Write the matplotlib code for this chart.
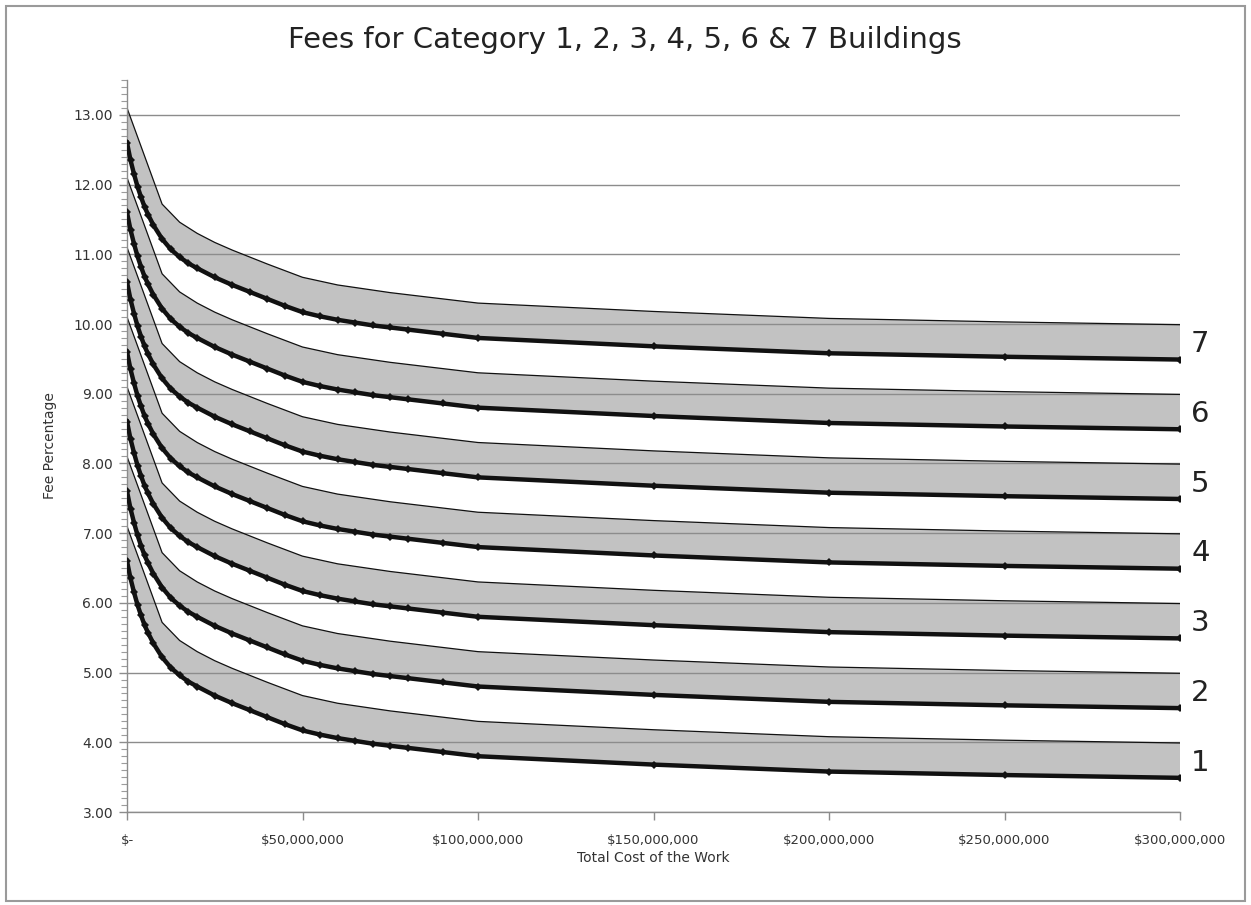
import matplotlib
matplotlib.use("Agg")
import matplotlib.pyplot as plt
import numpy as np
from matplotlib.ticker import MultipleLocator, FuncFormatter
from matplotlib.patches import Rectangle

# ---------------- data ----------------
x_lower_m = [0, 1, 2, 3, 4, 5, 6, 7.5, 10, 12.5, 15, 17.5, 20, 25, 30, 35, 40, 45,
             50, 55, 60, 65, 70, 75, 80, 90, 100, 150, 200, 250, 300]
x_upper_m = [0, 10, 15, 20, 25, 30, 35, 40, 50, 60, 75, 100, 150, 200, 250, 300]

lower_1 = [6.60, 6.35, 6.15, 5.97, 5.82, 5.68, 5.57, 5.42, 5.22, 5.07, 4.96, 4.87, 4.80, 4.67, 4.56, 4.46, 4.36, 4.26, 4.17, 4.11, 4.06, 4.02, 3.98, 3.95, 3.92, 3.86, 3.80, 3.68, 3.58, 3.53, 3.49]
lower_2 = [7.60, 7.35, 7.15, 6.97, 6.82, 6.68, 6.57, 6.42, 6.22, 6.07, 5.96, 5.87, 5.80, 5.67, 5.56, 5.46, 5.36, 5.26, 5.17, 5.11, 5.06, 5.02, 4.98, 4.95, 4.92, 4.86, 4.80, 4.68, 4.58, 4.53, 4.49]
lower_3 = [8.60, 8.35, 8.15, 7.97, 7.82, 7.68, 7.57, 7.42, 7.22, 7.07, 6.96, 6.87, 6.80, 6.67, 6.56, 6.46, 6.36, 6.26, 6.17, 6.11, 6.06, 6.02, 5.98, 5.95, 5.92, 5.86, 5.80, 5.68, 5.58, 5.53, 5.49]
lower_4 = [9.60, 9.35, 9.15, 8.97, 8.82, 8.68, 8.57, 8.42, 8.22, 8.07, 7.96, 7.87, 7.80, 7.67, 7.56, 7.46, 7.36, 7.26, 7.17, 7.11, 7.06, 7.02, 6.98, 6.95, 6.92, 6.86, 6.80, 6.68, 6.58, 6.53, 6.49]
lower_5 = [10.60, 10.35, 10.15, 9.97, 9.82, 9.68, 9.57, 9.42, 9.22, 9.07, 8.96, 8.87, 8.80, 8.67, 8.56, 8.46, 8.36, 8.26, 8.17, 8.11, 8.06, 8.02, 7.98, 7.95, 7.92, 7.86, 7.80, 7.68, 7.58, 7.53, 7.49]
lower_6 = [11.60, 11.35, 11.15, 10.97, 10.82, 10.68, 10.57, 10.42, 10.22, 10.07, 9.96, 9.87, 9.80, 9.67, 9.56, 9.46, 9.36, 9.26, 9.17, 9.11, 9.06, 9.02, 8.98, 8.95, 8.92, 8.86, 8.80, 8.68, 8.58, 8.53, 8.49]
lower_7 = [12.60, 12.35, 12.15, 11.97, 11.82, 11.68, 11.57, 11.42, 11.22, 11.07, 10.96, 10.87, 10.80, 10.67, 10.56, 10.46, 10.36, 10.26, 10.17, 10.11, 10.06, 10.02, 9.98, 9.95, 9.92, 9.86, 9.80, 9.68, 9.58, 9.53, 9.49]

upper_1 = [7.10, 5.72, 5.46, 5.30, 5.17, 5.06, 4.96, 4.86, 4.67, 4.56, 4.45, 4.30, 4.18, 4.08, 4.03, 3.99]
upper_2 = [8.10, 6.72, 6.46, 6.30, 6.17, 6.06, 5.96, 5.86, 5.67, 5.56, 5.45, 5.30, 5.18, 5.08, 5.03, 4.99]
upper_3 = [9.10, 7.72, 7.46, 7.30, 7.17, 7.06, 6.96, 6.86, 6.67, 6.56, 6.45, 6.30, 6.18, 6.08, 6.03, 5.99]
upper_4 = [10.10, 8.72, 8.46, 8.30, 8.17, 8.06, 7.96, 7.86, 7.67, 7.56, 7.45, 7.30, 7.18, 7.08, 7.03, 6.99]
upper_5 = [11.10, 9.72, 9.46, 9.30, 9.17, 9.06, 8.96, 8.86, 8.67, 8.56, 8.45, 8.30, 8.18, 8.08, 8.03, 7.99]
upper_6 = [12.10, 10.72, 10.46, 10.30, 10.17, 10.06, 9.96, 9.86, 9.67, 9.56, 9.45, 9.30, 9.18, 9.08, 9.03, 8.99]
upper_7 = [13.10, 11.72, 11.46, 11.30, 11.17, 11.06, 10.96, 10.86, 10.67, 10.56, 10.45, 10.30, 10.18, 10.08, 10.03, 9.99]

category_labels = ["1", "2", "3", "4", "5", "6", "7"]
lowers = [lower_1, lower_2, lower_3, lower_4, lower_5, lower_6, lower_7]
uppers = [upper_1, upper_2, upper_3, upper_4, upper_5, upper_6, upper_7]

title = "Fees for Category 1, 2, 3, 4, 5, 6 & 7 Buildings"
x_label = "Total Cost of the Work"
y_label = "Fee Percentage"

# ---------------- figure ----------------
W, H = 1251, 905
fig = plt.figure(figsize=(W / 100, H / 100), dpi=100)
fig.patch.set_facecolor("white")

# outer border of the chart area
fig.patches.append(Rectangle((6 / W, 4 / H), 1239 / W, 895 / H, transform=fig.transFigure,
                             fill=False, edgecolor="#9a9a9a", linewidth=1.5))

ax_left, ax_right, ax_bottom_px, ax_top_px = 127, 1180, 812, 80
ax = fig.add_axes([ax_left / W, 1 - ax_bottom_px / H,
                   (ax_right - ax_left) / W, (ax_bottom_px - ax_top_px) / H])

xl = np.array(x_lower_m) * 1e6
xu = np.array(x_upper_m) * 1e6

for lo, up in zip(lowers, uppers):
    poly_x = np.concatenate([xu, xl[::-1]])
    poly_y = np.concatenate([np.array(up), np.array(lo)[::-1]])
    ax.fill(poly_x, poly_y, facecolor="#c2c2c2", edgecolor="none", zorder=0.3)
    ax.plot(xu, up, color="#111111", lw=0.9, zorder=2)
    ax.plot(xl, lo, color="#111111", lw=3.2, marker="D", ms=4.5,
            markeredgewidth=0, zorder=3, solid_joinstyle="round")

for lab, lo in zip(category_labels, lowers):
    ax.annotate(lab, xy=(xl[-1], lo[-1] + 0.22), xycoords="data",
                xytext=(8, 0), textcoords="offset points",
                ha="left", va="center", fontsize=21, family="DejaVu Sans",
                color="#222222", annotation_clip=False)

ax.set_xlim(0, 300e6)
ax.set_ylim(3, 13.5)

ax.yaxis.set_major_locator(MultipleLocator(1))
ax.yaxis.set_minor_locator(MultipleLocator(0.1))
ax.xaxis.set_major_locator(MultipleLocator(50e6))
ax.yaxis.set_major_formatter(FuncFormatter(lambda v, p: f"{v:.2f}"))
ax.xaxis.set_major_formatter(FuncFormatter(lambda v, p: "$-" if v == 0 else f"${v:,.0f}"))

ax.set_axisbelow(True)
ax.yaxis.grid(True, which="major", color="#8c8c8c", lw=1.0)
ax.xaxis.grid(False)

for s in ["top", "right"]:
    ax.spines[s].set_visible(False)
for s in ["left", "bottom"]:
    ax.spines[s].set_color("#8c8c8c")
    ax.spines[s].set_linewidth(1.0)

ax.tick_params(axis="y", which="major", length=6, width=1, color="#8c8c8c",
               labelsize=10, labelcolor="#333333", pad=4)
ax.tick_params(axis="y", which="minor", length=4, width=0.8, color="#9c9c9c")
ax.tick_params(axis="x", which="major", length=6, width=1, color="#8c8c8c",
               labelsize=9.5, labelcolor="#333333", pad=10)

ax.set_xlabel(x_label, fontsize=10, color="#333333", labelpad=3)
ax.set_ylabel(y_label, fontsize=10, color="#333333", labelpad=12)

fig.text(625 / W, 1 - 40 / H, title, ha="center", va="center", fontsize=21,
         color="#222222")

fig.savefig("out.png", dpi=100)
